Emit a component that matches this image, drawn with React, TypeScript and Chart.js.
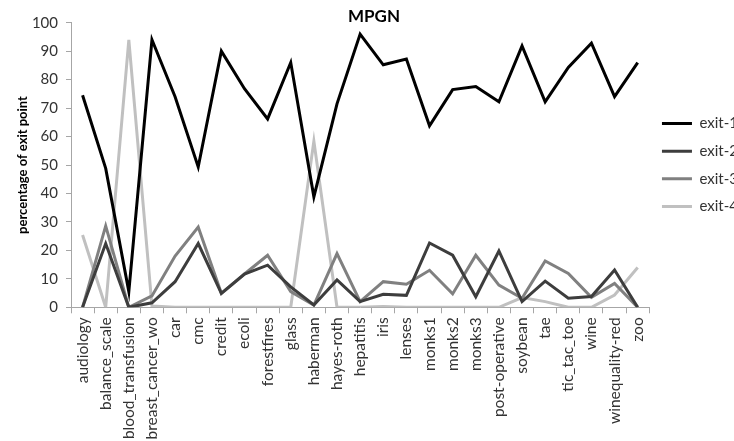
import React, { useEffect, useRef } from "react";
import { Chart, registerables } from "chart.js";

Chart.register(...registerables);

const categories = [
  "audiology", "balance_scale", "blood_transfusion", "breast_cancer_wo", "car", "cmc",
  "credit", "ecoli", "forestfires", "glass", "haberman", "hayes-roth", "hepatitis",
  "iris", "lenses", "monks1", "monks2", "monks3", "post-operative", "soybean", "tae",
  "tic_tac_toe", "wine", "winequality-red", "zoo",
];

const exit1 = [74.5, 48.8, 5.5, 94, 74, 49.3, 90, 76.8, 66.2, 86, 38.8, 71.5, 96, 85.2, 87.2, 63.8, 76.5, 77.6, 72.2, 91.8, 72.2, 84.3, 92.8, 74, 86];
const exit2 = [0, 22.4, 0, 1.6, 9, 22.4, 4.9, 11.7, 14.8, 7.2, 0.8, 9.6, 2, 4.6, 4.2, 22.6, 18.3, 3.7, 19.8, 2, 9.2, 3.2, 3.8, 13.1, 0];
const exit3 = [0, 28.6, 0, 4, 18, 28.2, 4.9, 11.7, 18.3, 5.5, 0.8, 18.9, 2, 9, 8.1, 13, 4.7, 18.3, 7.8, 3.2, 16.3, 11.9, 3.5, 8.4, 0];
const exit4 = [25.4, 0, 94, 0.5, 0, 0, 0, 0, 0, 0, 58.4, 0, 0, 0.3, 0, 0, 0, 0, 0, 3.4, 2, 0, 0, 4.3, 14];

const seriesNames = ["exit-1", "exit-2", "exit-3", "exit-4"];
const seriesColors = ["#000000", "#3d3d3d", "#808080", "#c0c0c0"];

const FONT = "Lato, 'Open Sans', sans-serif";

export default function App() {
  const ref = useRef<HTMLCanvasElement | null>(null);

  useEffect(() => {
    if (!ref.current) return;
    const values = [exit1, exit2, exit3, exit4];
    const chart = new Chart(ref.current, {
      type: "line",
      data: {
        labels: categories,
        datasets: values.map((v, i) => ({
          label: seriesNames[i],
          data: v,
          borderColor: seriesColors[i],
          backgroundColor: seriesColors[i],
          borderWidth: 3,
          pointRadius: 0,
          tension: 0,
          fill: false,
        })),
      },
      options: {
        responsive: false,
        animation: false,
        layout: { padding: { left: 0, right: -14, top: 0, bottom: 0 } },
        plugins: {
          title: {
            display: true,
            text: "MPGN",
            color: "#000",
            font: { family: FONT, size: 17, weight: "bold", lineHeight: 1 },
            padding: { top: 8, bottom: -2.3 },
          },
          legend: {
            position: "right",
            fullSize: false,
            labels: {
              font: { family: FONT, size: 15 },
              color: "#333",
              boxWidth: 30,
              boxHeight: 3,
              padding: 12.7,
              generateLabels: (c: any) =>
                Chart.defaults.plugins.legend.labels
                  .generateLabels(c)
                  .map((l: any) => ({ ...l, lineWidth: 0 })),
            },
          },
          tooltip: { enabled: false },
        },
        scales: {
          x: {
            type: "category",
            offset: true,
            grid: {
              offset: true,
              drawOnChartArea: false,
              drawTicks: true,
              tickLength: 6,
              color: "#a6a6a6",
            },
            border: { color: "#a6a6a6", width: 1 },
            ticks: {
              autoSkip: false,
              maxRotation: 90,
              minRotation: 90,
              padding: 4,
              color: "#333",
              font: { family: FONT, size: 15.5 },
            },
            afterFit: (s: any) => {
              s.height = 133.7;
            },
          },
          y: {
            min: 0,
            max: 100,
            ticks: {
              stepSize: 10,
              padding: 8,
              color: "#333",
              font: { family: FONT, size: 15 },
            },
            grid: {
              drawOnChartArea: false,
              drawTicks: true,
              tickLength: 5,
              color: "#a6a6a6",
            },
            border: { color: "#a6a6a6", width: 1 },
            title: {
              display: true,
              text: "percentage of exit point",
              color: "#000",
              font: { family: FONT, size: 13, weight: "bold" },
              padding: { top: 15, bottom: 0 },
            },
            afterFit: (s: any) => {
              s.width = 71;
            },
          },
        },
      },
    });
    return () => chart.destroy();
  }, []);

  return (
    <div style={{ position: "absolute", left: 0, top: 0, width: 734, height: 441 }}>
      <canvas ref={ref} width={734} height={441} style={{ display: "block" }} />
    </div>
  );
}
